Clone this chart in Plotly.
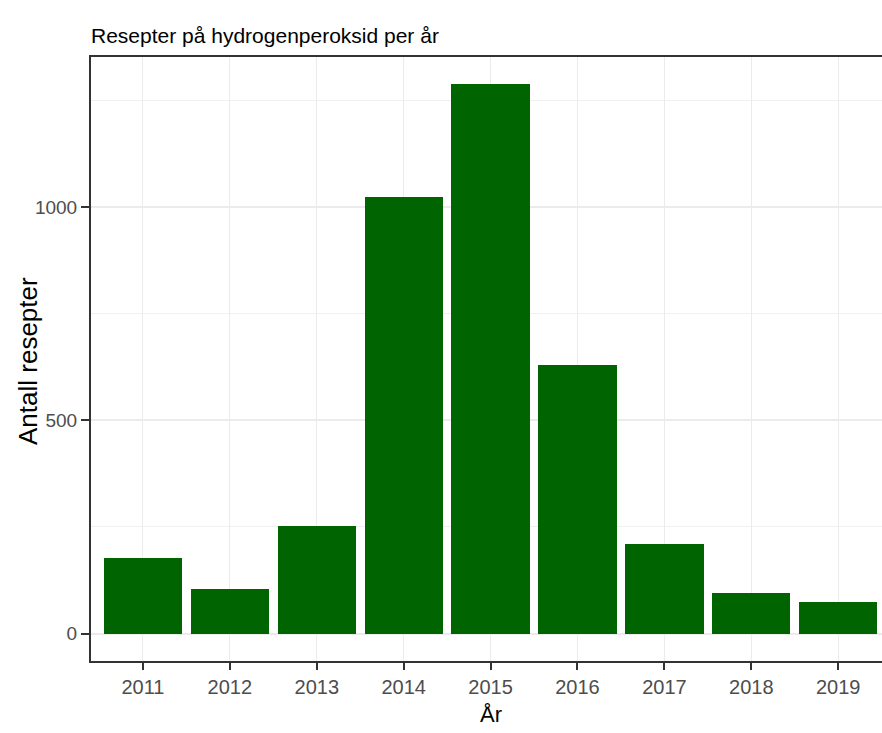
import plotly.graph_objects as go

years = ["2011", "2012", "2013", "2014", "2015", "2016", "2017", "2018", "2019"]
counts = [176, 105, 253, 1023, 1287, 629, 211, 94, 75]
y_ticks = [0, 500, 1000]
y_tick_text = ["0", "500", "1000"]

FONT = "Liberation Sans, Arial, sans-serif"

L, R, T, B = 91, 0, 57, 72
W, H = 882, 733
PW, PH = W - L - R, H - T - B

fig = go.Figure(
    go.Bar(
        x=years,
        y=counts,
        width=0.9,
        marker=dict(color="#006400", line=dict(width=0)),
        hoverinfo="skip",
    )
)

fig.update_layout(
    width=W,
    height=H,
    margin=dict(l=L, r=R, t=T, b=B),
    paper_bgcolor="white",
    plot_bgcolor="white",
    showlegend=False,
    title=dict(
        text="Resepter på hydrogenperoksid per år",
        font=dict(family=FONT, size=21, color="black"),
        x=0, xref="paper", xanchor="left",
        y=1 - 36 / H, yref="container", yanchor="middle",
    ),
    bargap=0,
    annotations=[
        dict(text="År", xref="paper", yref="paper",
             x=(490.5 - L) / PW, y=-(714 - (T + PH)) / PH,
             xanchor="center", yanchor="middle", showarrow=False,
             font=dict(family=FONT, size=22, color="black")),
        dict(text="Antall resepter", xref="paper", yref="paper",
             x=-(L - 28) / PW, y=0.5 - 2 / PH, textangle=-90,
             xanchor="center", yanchor="middle", showarrow=False,
             font=dict(family=FONT, size=26, color="black")),
    ],
)

fig.update_xaxes(
    type="category",
    range=[-0.598, 8.504],
    automargin=False,
    showline=True, linecolor="#333333", linewidth=2, mirror=True,
    ticks="outside", ticklen=7, tickcolor="#333333", tickwidth=1.5,
    tickfont=dict(family=FONT, size=20, color="#4D4D4D"),
    showgrid=True, gridcolor="#EBEBEB", gridwidth=1,
    zeroline=False,
)

fig.update_yaxes(
    range=[-64.4, 1351.4],
    automargin=False,
    tickvals=y_ticks, ticktext=y_tick_text,
    showline=True, linecolor="#333333", linewidth=2, mirror=False,
    ticks="outside", ticklen=8, tickcolor="#333333", tickwidth=1.5,
    tickfont=dict(family=FONT, size=19, color="#4D4D4D"),
    showgrid=True, gridcolor="#EBEBEB", gridwidth=1.5,
    minor=dict(dtick=250, tick0=0, showgrid=True, gridcolor="#F0F0F0", gridwidth=1, ticklen=0),
    zeroline=False,
)

fig.write_html("out.html", config={"displayModeBar": False})

# remove the default page margin so the figure sits at the window origin
with open("out.html", "r", encoding="utf-8") as f:
    html = f.read()
html = html.replace("<head>", "<head><style>html,body{margin:0;padding:0;overflow:hidden}</style>", 1)
with open("out.html", "w", encoding="utf-8") as f:
    f.write(html)
